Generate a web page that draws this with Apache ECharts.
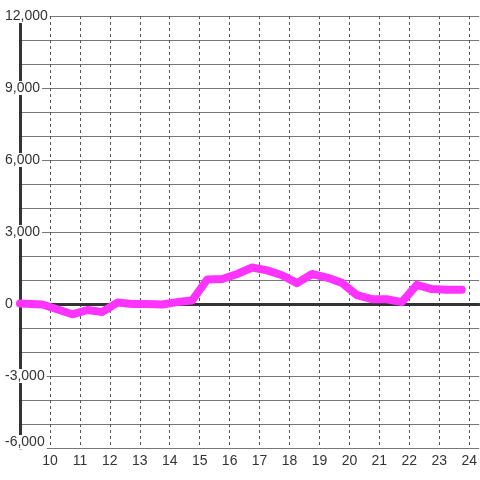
<!DOCTYPE html>
<html>
<head>
<meta charset="utf-8">
<script src="https://cdn.jsdelivr.net/npm/echarts@6/dist/echarts.min.js"></script>
<style>
html,body{margin:0;padding:0;background:#fff;}
#chart{width:480px;height:480px;}
</style>
</head>
<body>
<div id="chart"></div>
<script>
// Data
const hours = [9, 9.75, 10.75, 11.25, 11.75, 12.25, 12.75, 13.25, 13.75, 14.25, 14.75, 15.25, 15.75, 16.25, 16.75, 17.25, 17.75, 18.25, 18.75, 19.25, 19.75, 20.25, 20.75, 21.25, 21.75, 22.25, 22.75, 23.25, 23.75];
const values = [20, -20, -430, -250, -330, 60, 0, 0, -20, 80, 150, 1020, 1040, 1250, 1520, 1400, 1200, 870, 1250, 1100, 880, 370, 200, 200, 80, 800, 620, 590, 590];
const yTickLabels = [-6000, -3000, 0, 3000, 6000, 9000, 12000];
const xTickLabels = [10, 11, 12, 13, 14, 15, 16, 17, 18, 19, 20, 21, 22, 23, 24];

const X_MIN = 9, X_MAX = 24 + 1/3;
const Y_MIN = -6000, Y_MAX = 12000;
const FONT = "'Liberation Sans', Arial, sans-serif";

function fmt(v) {
  const s = Math.abs(v).toString().replace(/\B(?=(\d{3})+(?!\d))/g, ',');
  return (v < 0 ? '-' : '') + s;
}

const chart = echarts.init(document.getElementById('chart'), null, {renderer: 'canvas'});
chart.setOption({
  animation: false,
  backgroundColor: '#ffffff',
  grid: {left: 20, right: 0, top: 16, bottom: 32, containLabel: false},
  xAxis: [{
    type: 'value', min: X_MIN, max: X_MAX, interval: 1, position: 'bottom',
    axisLine: {show: false, onZero: false},
    axisTick: {show: false},
    axisLabel: {
      show: true, margin: 6, fontSize: 14, color: '#333', fontFamily: FONT,
      showMinLabel: false, showMaxLabel: false,
      formatter: function (v) { return xTickLabels.indexOf(Math.round(v)) >= 0 && Math.abs(v - Math.round(v)) < 1e-6 ? String(Math.round(v)) : ''; }
    },
    splitLine: {show: true, showMaxLine: false, lineStyle: {color: '#555', width: 1, type: [3, 3]}}
  }, {
    type: 'value', min: X_MIN, max: X_MAX, interval: 1, position: 'top', z: 1,
    axisLine: {show: true, onZero: true, onZeroAxisIndex: 0, lineStyle: {color: '#333', width: 3}},
    axisTick: {show: false}, axisLabel: {show: false}, splitLine: {show: false}
  }],
  yAxis: [{
    type: 'value', min: Y_MIN, max: Y_MAX, interval: 1000, position: 'right', z: 0,
    axisLine: {show: false}, axisTick: {show: false}, axisLabel: {show: false},
    splitLine: {show: true, lineStyle: {color: '#777', width: 1}}
  }, {
    type: 'value', min: Y_MIN, max: Y_MAX, interval: 1000, position: 'left', z: 1,
    axisLine: {show: true, onZero: false, lineStyle: {color: '#333', width: 3}},
    axisTick: {show: false},
    splitLine: {show: false},
    axisLabel: {
      show: true, margin: 15, align: 'left', fontFamily: FONT, fontSize: 14, color: '#333',
      formatter: function (v) {
        if (yTickLabels.indexOf(v) < 0) return '';
        if (v === Y_MIN) return '{n|' + fmt(v) + '}\n{s| }';
        return '{n|' + fmt(v) + '}';
      },
      rich: {
        n: {fontFamily: FONT, fontSize: 14, color: '#333', backgroundColor: '#fff', padding: [0, 2, 0, 0], lineHeight: 14},
        s: {fontSize: 1, lineHeight: 12}
      }
    }
  }],
  series: [{
    type: 'line', xAxisIndex: 0, yAxisIndex: 0, z: 2,
    data: hours.map(function (h, i) { return [h, values[i]]; }),
    showSymbol: false, symbol: 'none', clip: false,
    lineStyle: {color: '#ff33ff', width: 8, cap: 'round', join: 'round'}
  }]
});
</script>
</body>
</html>
